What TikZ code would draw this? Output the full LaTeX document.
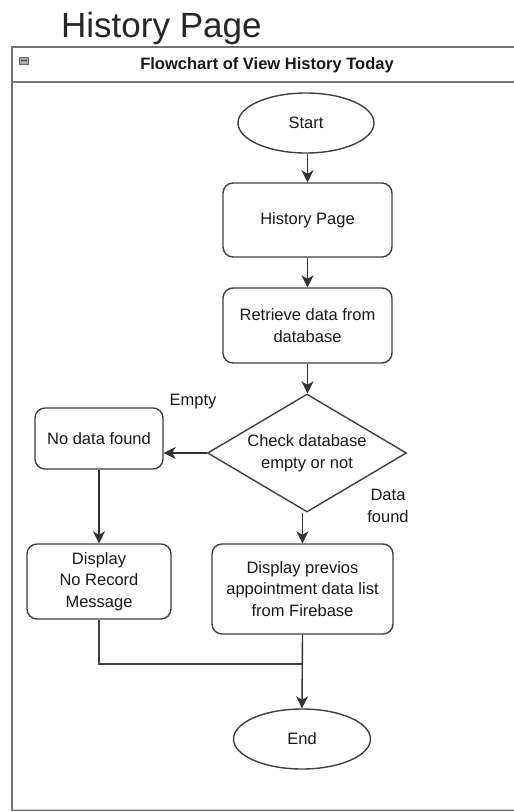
\documentclass[tikz,border=0pt]{standalone}
\usepackage{fontspec}
\setmainfont{Liberation Sans}
\usetikzlibrary{shapes.geometric,arrows.meta}

\tikzset{
  shapeline/.style={draw=black!75, line width=1.4pt, fill=white},
  flowtext/.style={font=\fontsize{16.5}{21.7}\selectfont, align=center, text=black!90},
  terminal/.style={shapeline, flowtext, ellipse, inner sep=0pt},
  process/.style={shapeline, flowtext, rectangle, rounded corners=10pt, inner sep=2pt},
  decision/.style={shapeline, flowtext, diamond, inner sep=0pt},
  flow/.style={draw=black!80, line width=1.4pt, -{Stealth[length=12pt,width=12pt,inset=3.5pt]}},
  joinline/.style={draw=black!75, line width=1.4pt},
  lbl/.style={flowtext}
}

\begin{document}
\begin{tikzpicture}[x=1pt,y=-1pt]
  \useasboundingbox (0,0) rectangle (514,812);

  % page title
  \node[anchor=base west, inner sep=0pt, font=\fontsize{35}{40}\selectfont, text=black!85] (title) at (61,37) {History Page};

  % swimlane frame with header band
  \draw[draw=black!55, line width=2pt] (526,810) -- (12,810) -- (12,47) -- (526,47);
  \draw[draw=black!55, line width=2pt] (12,82) -- (526,82);
  \draw[draw=black!20, line width=1pt] (13,809) -- (526,809);
  \node[font=\bfseries\fontsize{16.5}{20}\selectfont, text=black!90] (header) at (267,65) {Flowchart of View History Today};
  \draw[draw=black!60, fill=black!35, line width=0.6pt] (19,57) rectangle (28,64);
  \draw[draw=black!75, line width=1pt] (20.5,60.5) -- (26.5,60.5);

  % flow nodes
  \node[terminal, minimum width=136pt, minimum height=60pt] (start) at (306,123) {Start};
  \node[process, minimum width=169pt, minimum height=74pt] (hist) at (307.5,220) {History Page};
  \node[process, minimum width=169pt, minimum height=75pt] (retr) at (307.5,325.5) {Retrieve data from\\database};
  \node[decision, minimum width=199pt, minimum height=118pt, aspect=1.686] (check) at (307,453) {Check database\\empty or not};
  \node[process, minimum width=128pt, minimum height=61pt] (nodata) at (99,438.5) {No data found};
  \node[process, minimum width=144pt, minimum height=75pt] (disprec) at (99,581.5) {Display\\No Record\\Message};
  \node[process, minimum width=181pt, minimum height=90pt] (dispprev) at (302.5,589) {Display previos\\appointment data list\\from Firebase};
  \node[terminal, minimum width=137pt, minimum height=60pt] (end) at (302,739) {End};

  % branch labels
  \node[lbl] (lblempty) at (193,402) {Empty};
  \node[lbl] (lblfound) at (388,506) {Data\\found};

  % connectors
  \coordinate (join) at (302.5,664);
  \draw[flow] (start.south -| hist.north) -- (hist.north);
  \draw[flow] (hist.south) -- (retr.north);
  \draw[flow] (retr.south) -- (retr.south |- check.north);
  \draw[flow] (check.west) -- (check.west -| nodata.east);
  \draw[flow] (check.south -| dispprev.north) -- (dispprev.north);
  \draw[flow] (nodata.south) -- (disprec.north);
  \draw[joinline] (disprec.south) |- (join);
  \draw[flow] (dispprev.south) -- (end.north);
\end{tikzpicture}
\end{document}
